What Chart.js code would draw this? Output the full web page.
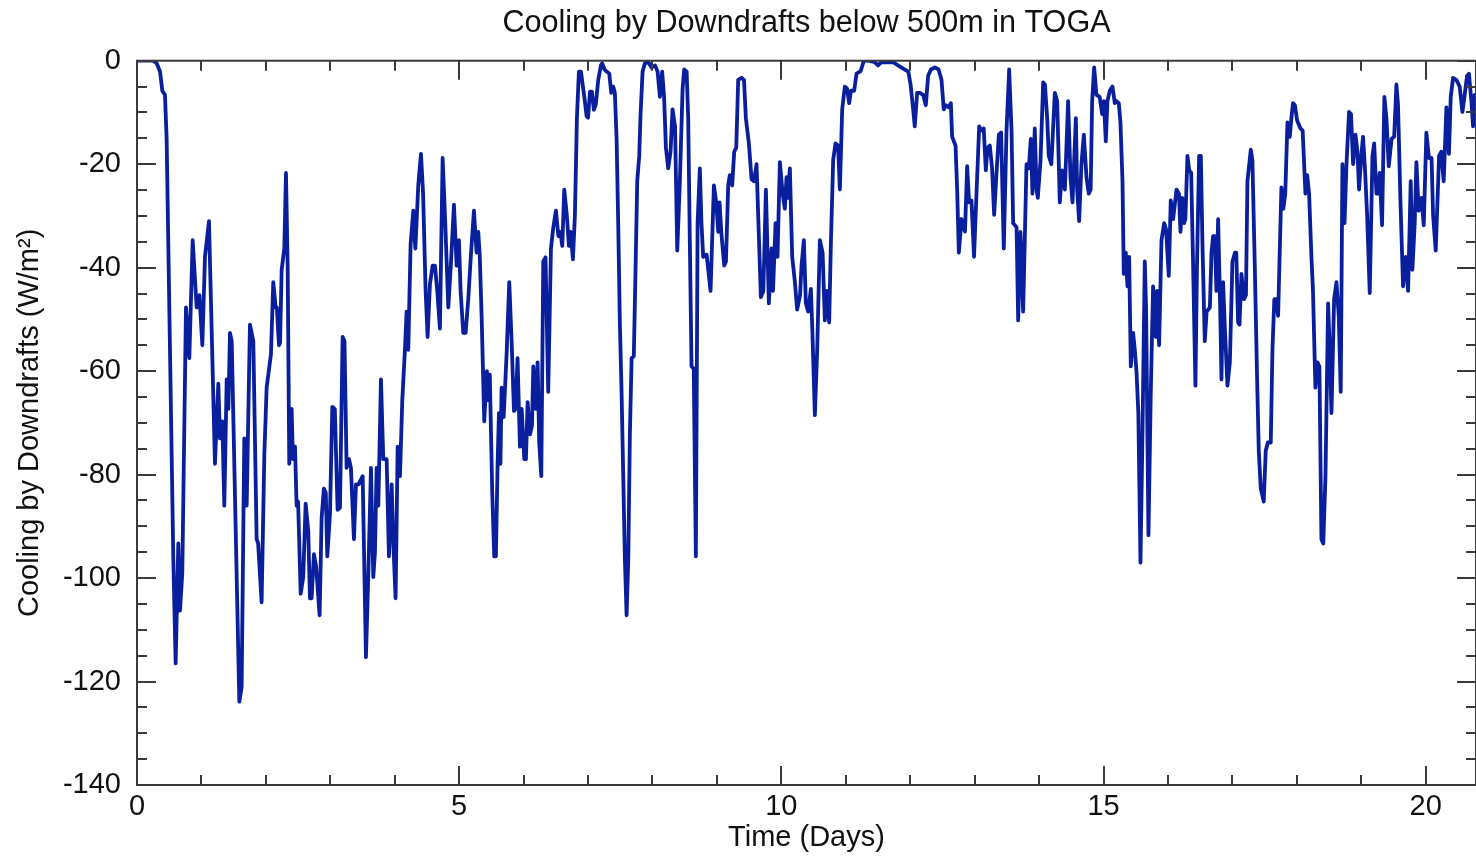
<!DOCTYPE html>
<html>
<head>
<meta charset="utf-8">
<title>Cooling by Downdrafts below 500m in TOGA</title>
<script src="https://cdn.jsdelivr.net/npm/chart.js@4/dist/chart.umd.min.js"></script>
<style>
  html, body { margin: 0; padding: 0; background: #fff; }
  #chart { display: block; }
</style>
</head>
<body>
<canvas id="chart" width="1476" height="856"></canvas>
<script>
// values (time in days, cooling in W/m^2)
const days = [
  0.00, 0.25, 0.305, 0.357, 0.393, 0.434, 0.46, 0.512, 0.564, 0.60, 0.641, 0.667, 0.703, 0.76, 0.812, 0.864, 0.926, 0.969,
  1.014, 1.055, 1.117, 1.21, 1.262, 1.288, 1.324, 1.355, 1.392, 1.418, 1.443, 1.47, 1.588, 1.624, 1.665, 1.702, 1.753, 1.805,
  1.857, 1.88, 1.934, 1.976, 2.012, 2.079, 2.115, 2.152, 2.17, 2.203, 2.22, 2.245, 2.286, 2.312, 2.338, 2.363, 2.40, 2.42,
  2.452, 2.477, 2.50, 2.54, 2.58, 2.617, 2.658, 2.684, 2.71, 2.746, 2.78, 2.834, 2.865, 2.90, 2.93, 2.953, 2.995, 3.031,
  3.07, 3.113, 3.15, 3.191, 3.22, 3.253, 3.29, 3.32, 3.367, 3.398, 3.44, 3.502, 3.553, 3.589, 3.631, 3.667, 3.693, 3.719,
  3.745, 3.786, 3.822, 3.874, 3.91, 3.952, 3.978, 4.013, 4.045, 4.081, 4.117, 4.158, 4.184, 4.21, 4.246, 4.288, 4.30, 4.32,
  4.365, 4.407, 4.44, 4.479, 4.51, 4.546, 4.588, 4.624, 4.66, 4.701, 4.743, 4.784, 4.831, 4.87, 4.919, 4.96, 4.996, 5.022,
  5.063, 5.10, 5.141, 5.18, 5.229, 5.27, 5.296, 5.32, 5.348, 5.389, 5.43, 5.451, 5.475, 5.513, 5.544, 5.57, 5.596, 5.617,
  5.64, 5.658, 5.69, 5.736, 5.777, 5.814, 5.85, 5.876, 5.906, 5.943, 5.97, 6.01, 6.036, 6.062, 6.10, 6.13, 6.15, 6.19,
  6.217, 6.242, 6.274, 6.305, 6.34, 6.382, 6.424, 6.46, 6.501, 6.54, 6.57, 6.60, 6.63, 6.67, 6.703, 6.73, 6.765, 6.796,
  6.827, 6.858, 6.89, 6.925, 6.95, 6.977, 7.00, 7.03, 7.06, 7.09, 7.12, 7.158, 7.20, 7.22, 7.256, 7.29, 7.329, 7.36,
  7.39, 7.416, 7.443, 7.468, 7.494, 7.52, 7.546, 7.572, 7.598, 7.624, 7.649, 7.676, 7.71, 7.738, 7.763, 7.794, 7.815, 7.846,
  7.882, 7.934, 7.986, 8.04, 8.079, 8.115, 8.15, 8.18, 8.208, 8.244, 8.28, 8.311, 8.35, 8.384, 8.425, 8.467, 8.492, 8.53,
  8.554, 8.58, 8.606, 8.64, 8.673, 8.70, 8.735, 8.76, 8.787, 8.84, 8.901, 8.953, 8.99, 9.02, 9.04, 9.07, 9.113, 9.14,
  9.175, 9.20, 9.237, 9.268, 9.30, 9.33, 9.382, 9.42, 9.449, 9.496, 9.537, 9.575, 9.615, 9.64, 9.682, 9.72, 9.76, 9.806,
  9.848, 9.87, 9.91, 9.94, 9.977, 10.02, 10.054, 10.08, 10.10, 10.132, 10.168, 10.21, 10.245, 10.29, 10.313, 10.349, 10.38, 10.416,
  10.458, 10.48, 10.52, 10.556, 10.597, 10.64, 10.675, 10.71, 10.742, 10.768, 10.804, 10.84, 10.88, 10.908, 10.944, 10.985, 11.02, 11.052,
  11.08, 11.13, 11.166, 11.23, 11.28, 11.35, 11.45, 11.50, 11.55, 11.63, 11.735, 11.81, 11.916, 11.97, 12.005, 12.045, 12.07, 12.107,
  12.15, 12.20, 12.242, 12.278, 12.32, 12.382, 12.44, 12.485, 12.52, 12.55, 12.60, 12.63, 12.65, 12.703, 12.728, 12.754, 12.796, 12.82,
  12.85, 12.883, 12.914, 12.95, 12.99, 13.028, 13.07, 13.10, 13.14, 13.173, 13.20, 13.235, 13.27, 13.302, 13.339, 13.375, 13.41, 13.452,
  13.494, 13.535, 13.572, 13.597, 13.65, 13.675, 13.711, 13.752, 13.804, 13.84, 13.871, 13.897, 13.933, 13.96, 13.98, 14.022, 14.063, 14.09,
  14.125, 14.15, 14.19, 14.244, 14.28, 14.321, 14.357, 14.40, 14.45, 14.487, 14.518, 14.57, 14.59, 14.621, 14.657, 14.694, 14.735, 14.771,
  14.80, 14.823, 14.854, 14.89, 14.94, 14.978, 15.005, 15.035, 15.06, 15.097, 15.138, 15.175, 15.20, 15.236, 15.262, 15.294, 15.314, 15.345,
  15.371, 15.397, 15.423, 15.459, 15.485, 15.511, 15.54, 15.573, 15.604, 15.64, 15.66, 15.697, 15.733, 15.769, 15.811, 15.83, 15.862, 15.899,
  15.94, 15.97, 16.012, 16.043, 16.08, 16.132, 16.17, 16.194, 16.22, 16.25, 16.27, 16.302, 16.33, 16.36, 16.39, 16.426, 16.45, 16.483,
  16.51, 16.535, 16.571, 16.60, 16.65, 16.675, 16.70, 16.726, 16.752, 16.778, 16.81, 16.83, 16.855, 16.88, 16.923, 16.96, 17.00, 17.04,
  17.06, 17.088, 17.11, 17.14, 17.18, 17.21, 17.233, 17.285, 17.31, 17.347, 17.383, 17.409, 17.44, 17.486, 17.517, 17.55, 17.595, 17.621,
  17.65, 17.68, 17.709, 17.76, 17.79, 17.82, 17.854, 17.89, 17.915, 17.94, 17.97, 18.003, 18.056, 18.09, 18.133, 18.16, 18.19, 18.226,
  18.25, 18.288, 18.32, 18.35, 18.381, 18.41, 18.444, 18.485, 18.51, 18.537, 18.578, 18.614, 18.65, 18.681, 18.707, 18.74, 18.77, 18.81,
  18.84, 18.873, 18.91, 18.94, 18.965, 19.00, 19.027, 19.06, 19.09, 19.131, 19.173, 19.20, 19.235, 19.26, 19.286, 19.322, 19.358, 19.39,
  19.426, 19.47, 19.51, 19.545, 19.57, 19.608, 19.648, 19.69, 19.726, 19.767, 19.793, 19.829, 19.855, 19.89, 19.933, 19.969, 20.01, 20.05,
  20.09, 20.114, 20.155, 20.207, 20.24, 20.279, 20.321, 20.36, 20.388, 20.424, 20.475, 20.527, 20.569, 20.60, 20.641, 20.67, 20.709, 20.734,
  20.76, 20.776
];
const cooling = [
  0, 0, -0.5, -2.1, -5.8, -6.6, -15.1, -55.9, -96.6, -116.5, -93.3, -106.3, -99, -47.7, -57.5, -34.7, -47.7, -45.3,
  -55, -37.9, -31, -77.9, -62.4, -73, -69.7, -86, -61.6, -67.3, -52.6, -54.2, -123.9, -121, -73, -86, -51, -54.2,
  -92.5, -93.3, -104.7, -76.2, -63.2, -56.7, -42.8, -47.7, -47.7, -55, -54.5, -40.4, -36.3, -21.7, -39.6, -77.9, -67.3, -77,
  -74.6, -86, -85.2, -103, -99.8, -85.6, -90.9, -103.9, -103.9, -95.4, -97.8, -107.2, -88.4, -82.7, -83.5, -95.8, -87.6, -66.9,
  -67.3, -86.8, -86.4, -53.4, -54.2, -78.7, -77, -78.7, -92.5, -81.9, -81.9, -80.3, -115.3, -99.8, -78.7, -99.8, -95, -78.7,
  -86, -61.6, -77, -77, -95.8, -81.9, -93.3, -103.9, -74.6, -80.3, -65.6, -55.9, -48.5, -55.9, -35.5, -29, -33, -36.3,
  -24.1, -18, -25.7, -44.5, -53.4, -43.2, -39.6, -39.6, -44.5, -51.8, -18.8, -31.4, -47.7, -39.6, -27.8, -39.6, -34.7, -44.5,
  -52.6, -52.6, -46.1, -37.9, -29, -37.1, -33.1, -37.9, -49.3, -69.7, -60, -65.6, -60.7, -83.5, -95.8, -95.8, -77.9, -68.1,
  -77.9, -63.2, -68.9, -56.7, -42.8, -54.2, -67.7, -67.3, -57.5, -74.6, -67.3, -77, -77, -66, -72.2, -70.5, -59.1, -67.3,
  -58.3, -73.8, -80.3, -38.8, -38, -64, -36.3, -32.3, -29, -33.9, -33.1, -35.8, -24.9, -29.8, -35.8, -33.1, -38.4, -29.8,
  -11.1, -2.1, -2.1, -5.4, -7.8, -10.7, -11, -6, -6, -9.5, -8.5, -3.7, -0.9, -0.5, -1.7, -2.1, -2.5, -6.2,
  -5, -6.2, -15.1, -31.4, -51, -64, -80.3, -96.6, -107.2, -96.6, -72.2, -57.5, -57.1, -39.6, -23.3, -18.4, -10.3, -2.1,
  -0.5, -0.3, -1.3, -0.9, -2.1, -7, -2.1, -7, -16.8, -20.8, -17.6, -9.4, -12.7, -36.7, -23.3, -5.4, -1.7, -2.1,
  -11.1, -35.5, -59.1, -59.5, -95.8, -31.4, -20.8, -31.4, -37.9, -37.5, -44.5, -24.1, -27.4, -33.1, -27.4, -33.5, -39.6, -38.8,
  -24.1, -22.1, -24.1, -17.6, -16.8, -3.7, -3.3, -3.7, -11.1, -16, -22.9, -23.3, -20, -29.8, -45.7, -44.5, -24.9, -46.9,
  -36.3, -44.5, -31.4, -37.9, -19.6, -25.7, -28.6, -22.5, -26.5, -20.8, -37.9, -42.8, -48.1, -45.3, -39.6, -34.7, -46.9, -48.5,
  -44.1, -51.8, -68.5, -55.9, -34.7, -37.1, -50.2, -44.5, -50.6, -35.5, -19.2, -16, -16.4, -24.9, -9.4, -5, -5.4, -8.2,
  -5.8, -5.8, -2.5, -2, 0, 0, -0.3, -0.9, -0.3, -0.3, -0.3, -0.9, -1.7, -2.1, -4.6, -9.4, -12.7, -6.2,
  -6.2, -6.6, -8.6, -2.9, -1.7, -1.3, -1.7, -3.7, -9.4, -8.6, -9, -8.2, -14.7, -16.4, -24.9, -37.1, -30.6, -32.2,
  -33, -20.4, -27.4, -27, -37.9, -25.7, -12.7, -13.5, -13.1, -21.2, -16.8, -16.4, -20.8, -29.8, -21.7, -14.3, -13.9, -36.3,
  -13.5, -1.7, -13.5, -31.4, -32.2, -50.2, -33.1, -48.5, -20, -20.8, -15.1, -25.7, -13.1, -24.9, -26.5, -19.2, -4.2, -4.6,
  -11.1, -18.4, -20, -6.2, -7.8, -27.4, -21.2, -24.9, -7.8, -22.5, -27.4, -11.1, -24.9, -31, -20, -14.3, -22.5, -25.7,
  -24.9, -7.8, -1.3, -6.6, -7, -10.3, -7.8, -15.6, -7.8, -5.8, -5, -8.2, -7.8, -8.2, -11.9, -23.3, -41.2, -37.1,
  -43.6, -37.9, -59.1, -52.6, -55.9, -60, -68.1, -97, -72.2, -38.8, -47.7, -91.7, -64, -43.6, -53.4, -44.5, -55, -34.7,
  -31.4, -32.6, -41.6, -27, -30.6, -24.9, -25.7, -33.1, -26.5, -31.4, -30.6, -18.4, -21.2, -21.7, -39.6, -62.8, -39.6, -18.4,
  -18.4, -35.5, -54.2, -48.5, -47.7, -37.1, -33.9, -33.9, -44.5, -30.6, -47.7, -61.6, -42.8, -51, -62.8, -58.3, -38.8, -37.1,
  -37.1, -50.6, -51, -41.2, -46.1, -45.3, -23.3, -17.2, -19.2, -39.6, -61.6, -75.4, -82.7, -85.2, -75.4, -73.8, -73.8, -55.9,
  -46.1, -46.1, -49.3, -24.5, -28.6, -25.7, -11.9, -14.7, -11.1, -8.2, -8.6, -11.5, -13.1, -13.5, -25.7, -22.1, -25.7, -37.9,
  -44.5, -63.2, -58.3, -59.1, -92.5, -93.3, -80.3, -46.9, -55.9, -68.1, -46.1, -42.8, -49.3, -64, -20, -31.4, -20, -9.9,
  -10.3, -20, -14.3, -17.6, -24.9, -18.4, -14.7, -21.7, -29.8, -44.9, -18.4, -16, -25.7, -25.7, -21.7, -31.8, -7, -11.1,
  -20.4, -15.1, -14.7, -4.6, -8.6, -27.4, -43.6, -37.9, -44.5, -23.3, -40.4, -31.4, -19.6, -29, -26.5, -31.8, -13.9, -18.8,
  -18.8, -29.8, -36.7, -18.4, -17.6, -23.3, -9, -18, -7, -3.3, -3.7, -5, -9.9, -7, -2.9, -2.5, -7.8, -12.7,
  -6.6, -8
];
const xTickValues = [0, 5, 10, 15, 20];
const yTickValues = [-140, -120, -100, -80, -60, -40, -20, 0];
const xMinorStep = 1;
const yMinorStep = 5;

const FONT = "'Liberation Sans', Helvetica, Arial, sans-serif";
const INK = '#111';
const AXIS = '#3a3a3a';

// IDL style box with inward ticks on all four sides
const boxTicks = {
  id: 'boxTicks',
  afterDatasetsDraw(chart) {
    const { ctx, chartArea: a, scales: { x, y } } = chart;
    ctx.save();
    ctx.strokeStyle = AXIS;
    ctx.lineWidth = 2;
    ctx.beginPath();
    for (let d = x.min; d <= x.max + 1e-9; d += xMinorStep) {
      const px = Math.round(x.getPixelForValue(d));
      const len = xTickValues.includes(d) ? 19 : 10;
      ctx.moveTo(px, a.bottom); ctx.lineTo(px, a.bottom - len);
      ctx.moveTo(px, a.top); ctx.lineTo(px, a.top + len);
    }
    for (let v = y.min; v <= y.max + 1e-9; v += yMinorStep) {
      const py = Math.round(y.getPixelForValue(v));
      const len = yTickValues.includes(v) ? 19 : 10;
      ctx.moveTo(a.left, py); ctx.lineTo(a.left + len, py);
      ctx.moveTo(a.right, py); ctx.lineTo(a.right - len, py);
    }
    ctx.stroke();
    ctx.strokeRect(a.left, a.top, a.right - a.left, a.bottom - a.top);
    ctx.restore();
  }
};

new Chart(document.getElementById('chart'), {
  type: 'line',
  data: {
    datasets: [{
      data: days.map((d, i) => ({ x: d, y: cooling[i] })),
      borderColor: '#0a1f9e',
      borderWidth: 3.8,
      borderJoinStyle: 'round',
      pointRadius: 0,
      tension: 0
    }]
  },
  options: {
    responsive: false,
    animation: false,
    layout: { padding: 0 },
    plugins: {
      legend: { display: false },
      tooltip: { enabled: false },
      title: {
        display: true,
        fullSize: false,
        text: 'Cooling by Downdrafts below 500m in TOGA',
        color: INK,
        font: { family: FONT, size: 30.6, weight: 'normal' },
        padding: { top: 5, bottom: 19 }
      }
    },
    scales: {
      x: {
        type: 'linear',
        min: 0,
        max: 20.78,
        afterBuildTicks: s => { s.ticks = xTickValues.map(v => ({ value: v })); },
        afterFit: s => { s.height = 71; },
        grid: { display: false },
        border: { display: false },
        ticks: { color: INK, padding: -3, maxRotation: 0, font: { family: FONT, size: 29 }, callback: v => String(v) },
        title: { display: true, text: 'Time (Days)', color: INK, font: { family: FONT, size: 29 }, padding: { top: 0, bottom: 1 } }
      },
      y: {
        min: -140,
        max: 0,
        afterBuildTicks: s => { s.ticks = yTickValues.map(v => ({ value: v })); },
        afterFit: s => { s.width = 137; },
        grid: { display: false },
        border: { display: false },
        ticks: { color: INK, padding: 8, font: { family: FONT, size: 29 }, callback: v => String(v) },
        title: { display: true, text: 'Cooling by Downdrafts (W/m²)', color: INK, font: { family: FONT, size: 29 }, padding: { top: 13, bottom: 0 } }
      }
    }
  },
  plugins: [boxTicks]
});
</script>
</body>
</html>
